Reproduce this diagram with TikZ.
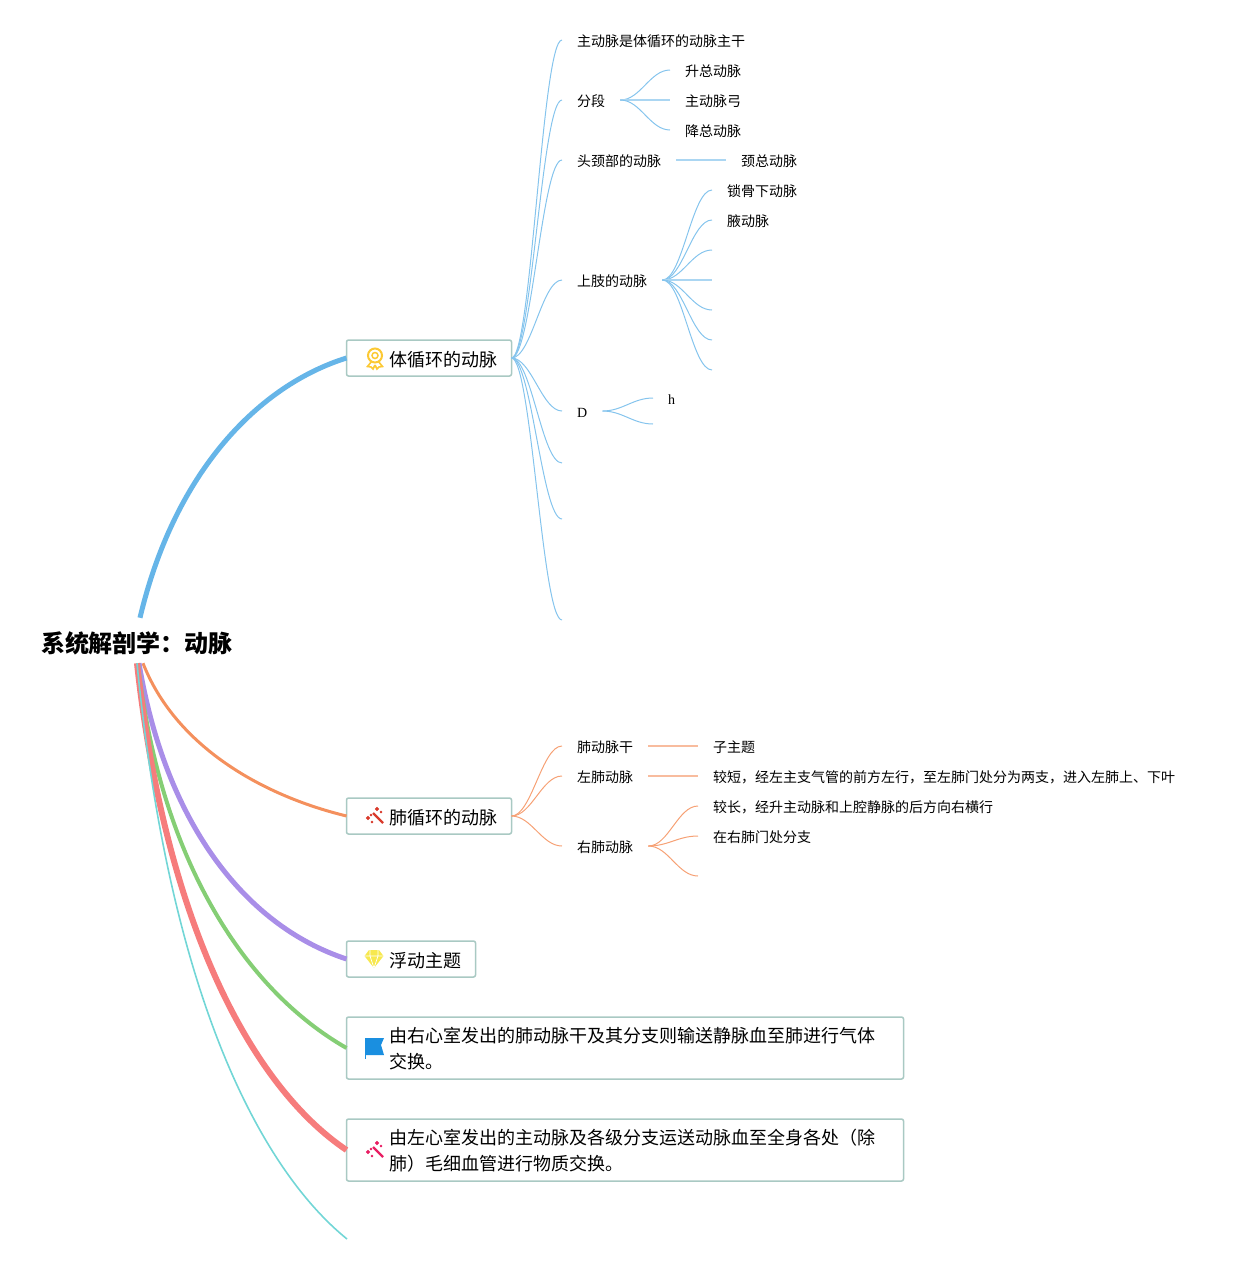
\documentclass[tikz,border=0pt]{standalone}
\usepackage{fontspec}
\setmainfont{Noto Sans CJK SC}
\newfontfamily\latinfont{Liberation Serif}
\usepackage{xcolor}
\usetikzlibrary{positioning}

\definecolor{topicline}{HTML}{A9C9C3}
\definecolor{bluebranch}{HTML}{66B5E8}
\definecolor{orangebranch}{HTML}{F4905D}
\definecolor{purplebranch}{HTML}{A98EE8}
\definecolor{greenbranch}{HTML}{85CE75}
\definecolor{redbranch}{HTML}{F67C7C}
\definecolor{cyanbranch}{HTML}{72D6D6}
\definecolor{medalgold}{HTML}{FCC934}
\definecolor{gemyellow}{HTML}{F7E84E}
\definecolor{flagblue}{HTML}{1A8FE0}
\definecolor{wandred}{HTML}{D93A2B}
\definecolor{wandpink}{HTML}{E91E63}

\newcommand{\iconskip}{\hspace*{28pt}}

\begin{document}
\begin{tikzpicture}[
    x=1pt, y=-1pt,
    root_text/.style={inner sep=0pt, minimum height=45pt, text height=26pt, text depth=1.8pt, font=\fontsize{24}{28}\selectfont\bfseries},
    topic_box/.style={draw=topicline, line width=1.5pt, rounded corners=2pt, fill=white, outer sep=0pt, inner xsep=14.5pt, inner ysep=0pt, minimum height=36pt, text height=19.5pt, text depth=1.8pt, align=left, anchor=west, font=\fontsize{18}{26}\selectfont},
    long_box/.style={topic_box, text width=528pt, minimum height=62pt, text height=17pt, text depth=28pt},
    sub_text/.style={inner xsep=15pt, inner ysep=0pt, anchor=west, text height=14pt, text depth=1.4pt, font=\fontsize{14}{18}\selectfont},
    curve_link/.style={to path={.. controls +(20pt,0pt) and +(-20pt,0pt) .. (\tikztotarget)}},
    blue_line/.style={draw=bluebranch!80, line width=1pt},
    orange_line/.style={draw=orangebranch!85, line width=1pt},
    blue_straight/.style={draw=bluebranch!55, line width=1.3pt},
    orange_straight/.style={draw=orangebranch!60, line width=1.3pt},
    medal/.pic={
        \draw[medalgold, line width=1.6pt, fill=white] (-3,3) -- (-7.5,8.5) -- (-4,9) -- (-2,11) -- (0,7);
        \draw[medalgold, line width=1.6pt, fill=white] (3,3) -- (7.5,8.5) -- (4,9) -- (2,11) -- (0,7);
        \draw[medalgold, line width=2pt, fill=white] (0,-2.5) circle (7);
        \draw[medalgold, line width=1.5pt] (0,-2.5) circle (3);
    },
    wand/.pic={
        \draw[pic actions, line width=2.2pt] (-2,-3) -- (8,7);
        \fill[pic actions] (-7,2) circle (1.9) (-4,-1) circle (1);
        \fill[pic actions] (2,-7) circle (1.9) (6,-4) circle (1) (-3,6) circle (1);
    },
    gem/.pic={
        \fill[gemyellow] (-9.5,-3) -- (-5,-9) -- (5,-9) -- (9.5,-3) -- (0,9) -- cycle;
        \draw[white, line width=0.7pt] (-9.5,-3) -- (9.5,-3) (-4,-9) -- (-4,-3) -- (0,9) -- (4,-3) -- (4,-9);
    },
    flag/.pic={
        \fill[flagblue] (-9,-10) -- (10,-10) -- (7,-3) -- (10,7) -- (-9,7) -- cycle;
        \fill[flagblue] (-9.5,-10) rectangle (-8,11);
    }
]

\useasboundingbox (0,0) rectangle (1235,1264);

% Root node
\node[root_text] (root) at (137,640.5) {系统解剖学：动脉};

% Main topics
\node[topic_box] (body) at (346.5,358) {\iconskip 体循环的动脉};
\node[topic_box] (lung) at (346.5,816) {\iconskip 肺循环的动脉};
\node[topic_box] (free) at (346.5,959) {\iconskip 浮动主题};
\node[long_box] (right) at (346.5,1048) {\iconskip 由右心室发出的肺动脉干及其分支则输送静脉血至肺进行气体\\\iconskip 交换。};
\node[long_box] (left) at (346.5,1150) {\iconskip 由左心室发出的主动脉及各级分支运送动脉血至全身各处（除\\\iconskip 肺）毛细血管进行物质交换。};
\coordinate (last) at (347,1239);

% Topic icons
\pic at ([xshift=28.5pt]body.west) {medal};
\pic[draw=wandred, fill=wandred] at ([xshift=28.5pt]lung.west) {wand};
\pic at ([xshift=27.5pt]free.west) {gem};
\pic at ([xshift=27.5pt]right.west) {flag};
\pic[draw=wandpink, fill=wandpink] at ([xshift=28.5pt]left.west) {wand};

% Thick branches from the root
\draw[bluebranch, line width=5pt] ([xshift=3pt]root.north) .. controls (175,470) and (260,385) .. (body.west);
\draw[orangebranch, line width=3pt] ([xshift=6pt]root.south) .. controls (175,745) and (260,795) .. (lung.west);
\draw[purplebranch, line width=5pt] ([xshift=2pt]root.south) .. controls (165,820) and (243,925) .. (free.west);
\draw[greenbranch, line width=4pt] ([xshift=1pt]root.south) .. controls (160,860) and (245,990) .. (right.west);
\draw[redbranch, line width=6pt] (root.south) .. controls (165,920) and (250,1085) .. (left.west);
\draw[cyanbranch, line width=1.6pt] (root.south) .. controls (170,1000) and (262,1170) .. (last);

% Children of body
\node[sub_text] (aorta) at (562,40) {主动脉是体循环的动脉主干};
\node[sub_text] (seg) at (562,100) {分段};
\node[sub_text] (head) at (562,160) {头颈部的动脉};
\node[sub_text] (limb) at (562,280) {上肢的动脉};
\node[sub_text, font=\fontsize{14}{18}\latinfont] (dnode) at (562,411) {D};
\coordinate (b6) at (562,463);
\coordinate (b7) at (562,519);
\coordinate (b8) at (562,620);

% Children of seg
\node[sub_text] (seg1) at (670,70) {升总动脉};
\node[sub_text] (seg2) at (670,100) {主动脉弓};
\node[sub_text] (seg3) at (670,130) {降总动脉};

% Child of head
\node[sub_text] (head1) at (726,160) {颈总动脉};

% Children of limb
\node[sub_text] (limb1) at (712,190) {锁骨下动脉};
\node[sub_text] (limb2) at (712,220) {腋动脉};
\coordinate (limb3) at (712,250);
\coordinate (limb4) at (712,280);
\coordinate (limb5) at (712,310);
\coordinate (limb6) at (712,340);
\coordinate (limb7) at (712,370);

% Children of dnode
\node[sub_text, font=\fontsize{14}{18}\latinfont] (d1) at (653,398) {h};
\coordinate (d2) at (653,424);

% Children of lung
\node[sub_text] (trunk) at (562,746) {肺动脉干};
\node[sub_text] (lleft) at (562,776) {左肺动脉};
\node[sub_text] (lright) at (562,846) {右肺动脉};
\node[sub_text] (trunk1) at (698,746) {子主题};
\node[sub_text] (lleft1) at (698,776) {较短，经左主支气管的前方左行，至左肺门处分为两支，进入左肺上、下叶};
\node[sub_text] (lright1) at (698,806) {较长，经升主动脉和上腔静脉的后方向右横行};
\node[sub_text] (lright2) at (698,836) {在右肺门处分支};
\coordinate (lright3) at (698,876);

% Blue curves
\draw[blue_line] (body.east) to[curve_link] (aorta.west);
\draw[blue_line] (body.east) to[curve_link] (seg.west);
\draw[blue_line] (body.east) to[curve_link] (head.west);
\draw[blue_line] (body.east) to[curve_link] (limb.west);
\draw[blue_line] (body.east) to[curve_link] (dnode.west);
\draw[blue_line] (body.east) to[curve_link] (b6);
\draw[blue_line] (body.east) to[curve_link] (b7);
\draw[blue_line] (body.east) to[curve_link] (b8);
\draw[blue_line] (seg.east) to[curve_link] (seg1.west);
\draw[blue_straight] (seg.east) -- (seg2.west);
\draw[blue_line] (seg.east) to[curve_link] (seg3.west);
\draw[blue_straight] (head.east) -- (head1.west);
\draw[blue_line] (limb.east) to[curve_link] (limb1.west);
\draw[blue_line] (limb.east) to[curve_link] (limb2.west);
\draw[blue_line] (limb.east) to[curve_link] (limb3);
\draw[blue_straight] (limb.east) -- (limb4);
\draw[blue_line] (limb.east) to[curve_link] (limb5);
\draw[blue_line] (limb.east) to[curve_link] (limb6);
\draw[blue_line] (limb.east) to[curve_link] (limb7);
\draw[blue_line] (dnode.east) to[curve_link] (d1.west);
\draw[blue_line] (dnode.east) to[curve_link] (d2);

% Orange curves
\draw[orange_line] (lung.east) to[curve_link] (trunk.west);
\draw[orange_line] (lung.east) to[curve_link] (lleft.west);
\draw[orange_line] (lung.east) to[curve_link] (lright.west);
\draw[orange_straight] (trunk.east) -- (trunk1.west);
\draw[orange_straight] (lleft.east) -- (lleft1.west);
\draw[orange_line] (lright.east) to[curve_link] (lright1.west);
\draw[orange_line] (lright.east) to[curve_link] (lright2.west);
\draw[orange_line] (lright.east) to[curve_link] (lright3);

\end{tikzpicture}
\end{document}
